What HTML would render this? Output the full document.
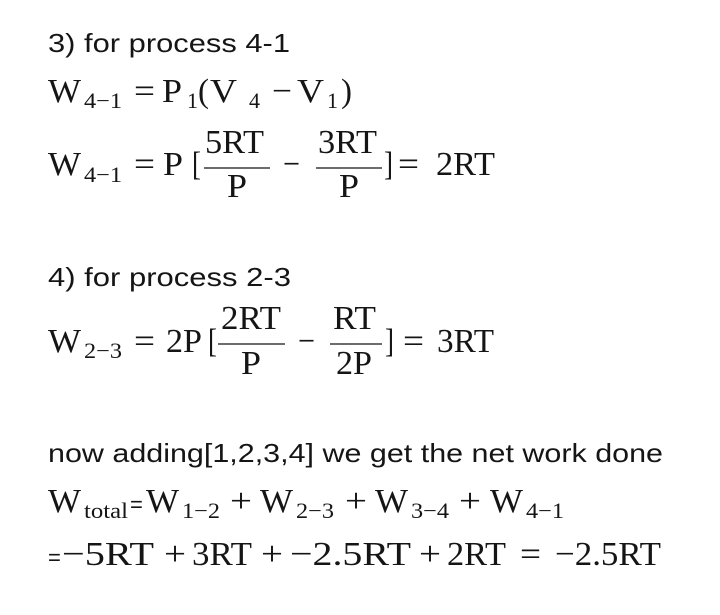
<!DOCTYPE html>
<html><head><meta charset="utf-8"><style>
html,body{margin:0;padding:0;background:#fff;}
svg{display:block;}
.s{font-family:"Liberation Sans",sans-serif;font-size:26px;fill:#151515;}
.m{font-family:"Liberation Serif",serif;font-size:34px;fill:#151515;}
.b{font-family:"Liberation Serif",serif;font-size:22px;fill:#151515;}
</style></head><body>
<svg width="720" height="615" viewBox="0 0 720 615" xmlns="http://www.w3.org/2000/svg">
<text class="s" x="48" y="52" textLength="242" lengthAdjust="spacingAndGlyphs">3) for process 4-1</text>

<text class="m" x="48" y="102" textLength="33" lengthAdjust="spacingAndGlyphs">W</text>
<text class="b" x="84" y="108" textLength="38" lengthAdjust="spacingAndGlyphs">4−1</text>
<text class="m" x="134" y="102" textLength="21" lengthAdjust="spacingAndGlyphs">=</text>
<text class="m" x="162" y="102" textLength="20" lengthAdjust="spacingAndGlyphs">P</text>
<text class="b" x="187" y="108">1</text>
<text class="m" x="198" y="102" textLength="11" lengthAdjust="spacingAndGlyphs">(</text>
<text class="m" x="210" y="102" textLength="27" lengthAdjust="spacingAndGlyphs">V</text>
<text class="b" x="249" y="108">4</text>
<text class="m" x="272" y="102" textLength="20" lengthAdjust="spacingAndGlyphs">−</text>
<text class="m" x="297" y="102" textLength="27" lengthAdjust="spacingAndGlyphs">V</text>
<text class="b" x="327" y="108">1</text>
<text class="m" x="341" y="102" textLength="11" lengthAdjust="spacingAndGlyphs">)</text>

<text class="m" x="48" y="175" textLength="33" lengthAdjust="spacingAndGlyphs">W</text>
<text class="b" x="84" y="182" textLength="38" lengthAdjust="spacingAndGlyphs">4−1</text>
<text class="m" x="134" y="175" textLength="21" lengthAdjust="spacingAndGlyphs">=</text>
<text class="m" x="163" y="175" textLength="20" lengthAdjust="spacingAndGlyphs">P</text>
<text class="m" x="192" y="175" textLength="9" lengthAdjust="spacingAndGlyphs">[</text>
<text class="m" x="205" y="153" textLength="59" lengthAdjust="spacingAndGlyphs">5RT</text>
<line x1="204" y1="168" x2="270" y2="168" stroke="#151515" stroke-width="1.2"/>
<text class="m" x="227" y="197" textLength="20" lengthAdjust="spacingAndGlyphs">P</text>
<text class="m" x="283" y="175" textLength="17" lengthAdjust="spacingAndGlyphs">−</text>
<text class="m" x="318" y="153" textLength="59" lengthAdjust="spacingAndGlyphs">3RT</text>
<line x1="316" y1="168" x2="382" y2="168" stroke="#151515" stroke-width="1.2"/>
<text class="m" x="339" y="197" textLength="20" lengthAdjust="spacingAndGlyphs">P</text>
<text class="m" x="384" y="175" textLength="9" lengthAdjust="spacingAndGlyphs">]</text>
<text class="m" x="398" y="175" textLength="21" lengthAdjust="spacingAndGlyphs">=</text>
<text class="m" x="436" y="175" textLength="59" lengthAdjust="spacingAndGlyphs">2RT</text>

<text class="s" x="48" y="286" textLength="243" lengthAdjust="spacingAndGlyphs">4) for process 2-3</text>

<text class="m" x="48" y="352" textLength="33" lengthAdjust="spacingAndGlyphs">W</text>
<text class="b" x="84" y="358" textLength="38" lengthAdjust="spacingAndGlyphs">2−3</text>
<text class="m" x="134" y="352" textLength="21" lengthAdjust="spacingAndGlyphs">=</text>
<text class="m" x="166" y="352" textLength="36" lengthAdjust="spacingAndGlyphs">2P</text>
<text class="m" x="208" y="352" textLength="9" lengthAdjust="spacingAndGlyphs">[</text>
<text class="m" x="221" y="329" textLength="60" lengthAdjust="spacingAndGlyphs">2RT</text>
<line x1="218" y1="344" x2="285" y2="344" stroke="#151515" stroke-width="1.2"/>
<text class="m" x="241" y="374" textLength="20" lengthAdjust="spacingAndGlyphs">P</text>
<text class="m" x="298" y="352" textLength="17" lengthAdjust="spacingAndGlyphs">−</text>
<text class="m" x="333" y="329" textLength="43" lengthAdjust="spacingAndGlyphs">RT</text>
<line x1="330" y1="344" x2="382" y2="344" stroke="#151515" stroke-width="1.2"/>
<text class="m" x="336" y="374" textLength="36" lengthAdjust="spacingAndGlyphs">2P</text>
<text class="m" x="385" y="352" textLength="9" lengthAdjust="spacingAndGlyphs">]</text>
<text class="m" x="403" y="352" textLength="21" lengthAdjust="spacingAndGlyphs">=</text>
<text class="m" x="437" y="352" textLength="57" lengthAdjust="spacingAndGlyphs">3RT</text>

<text class="s" x="48" y="462" textLength="615" lengthAdjust="spacingAndGlyphs">now adding[1,2,3,4] we get the net work done</text>

<text class="m" x="48" y="512" textLength="33" lengthAdjust="spacingAndGlyphs">W</text>
<text class="b" x="84" y="518" textLength="44" lengthAdjust="spacingAndGlyphs">total</text>
<text class="s" x="130" y="512" style="font-size:22px">=</text>
<text class="m" x="146" y="512" textLength="33" lengthAdjust="spacingAndGlyphs">W</text>
<text class="b" x="182" y="518" textLength="38" lengthAdjust="spacingAndGlyphs">1−2</text>
<text class="m" x="230" y="512" textLength="22" lengthAdjust="spacingAndGlyphs">+</text>
<text class="m" x="260" y="512" textLength="33" lengthAdjust="spacingAndGlyphs">W</text>
<text class="b" x="296" y="518" textLength="38" lengthAdjust="spacingAndGlyphs">2−3</text>
<text class="m" x="345" y="512" textLength="22" lengthAdjust="spacingAndGlyphs">+</text>
<text class="m" x="375" y="512" textLength="33" lengthAdjust="spacingAndGlyphs">W</text>
<text class="b" x="411" y="518" textLength="38" lengthAdjust="spacingAndGlyphs">3−4</text>
<text class="m" x="459" y="512" textLength="22" lengthAdjust="spacingAndGlyphs">+</text>
<text class="m" x="490" y="512" textLength="33" lengthAdjust="spacingAndGlyphs">W</text>
<text class="b" x="526" y="518" textLength="38" lengthAdjust="spacingAndGlyphs">4−1</text>

<text class="s" x="48" y="565" style="font-size:22px">=</text>
<text class="m" x="62" y="565" textLength="92" lengthAdjust="spacingAndGlyphs">−5RT</text>
<text class="m" x="164" y="565" textLength="22" lengthAdjust="spacingAndGlyphs">+</text>
<text class="m" x="192" y="565" textLength="60" lengthAdjust="spacingAndGlyphs">3RT</text>
<text class="m" x="261" y="565" textLength="22" lengthAdjust="spacingAndGlyphs">+</text>
<text class="m" x="290" y="565" textLength="121" lengthAdjust="spacingAndGlyphs">−2.5RT</text>
<text class="m" x="419" y="565" textLength="22" lengthAdjust="spacingAndGlyphs">+</text>
<text class="m" x="447" y="565" textLength="59" lengthAdjust="spacingAndGlyphs">2RT</text>
<text class="m" x="520" y="565" textLength="21" lengthAdjust="spacingAndGlyphs">=</text>
<text class="m" x="555" y="565" textLength="106" lengthAdjust="spacingAndGlyphs">−2.5RT</text>
</svg>
</body></html>
